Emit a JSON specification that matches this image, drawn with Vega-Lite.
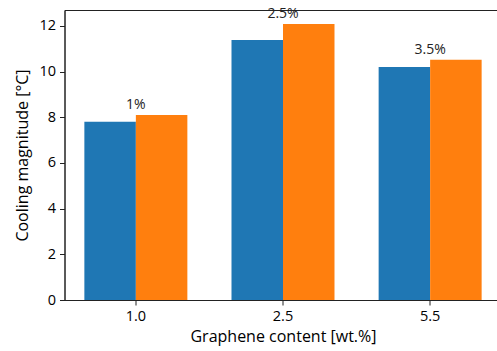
{
  "$schema": "https://vega.github.io/schema/vega-lite/v6.json",
  "width": 437,
  "height": 290,
  "autosize": {"type": "none"},
  "padding": {"left": 64.5, "top": 10, "right": 0, "bottom": 51},
  "config": {
    "font": "Open Sans",
    "view": {"stroke": "#222", "strokeWidth": 1},
    "axis": {
      "grid": false,
      "domainColor": "#222",
      "tickColor": "#222",
      "tickSize": 5,
      "labelFontSize": 14.5,
      "titleFontSize": 16,
      "labelColor": "#000",
      "titleColor": "#000",
      "titleFontWeight": "normal",
      "labelFont": "Open Sans",
      "titleFont": "Open Sans"
    }
  },
  "data": {
    "values": [
      {"content": "1.0", "series": "A", "value": 7.81, "label": null},
      {"content": "1.0", "series": "B", "value": 8.10, "label": "1%"},
      {"content": "2.5", "series": "A", "value": 11.39, "label": null},
      {"content": "2.5", "series": "B", "value": 12.09, "label": "2.5%"},
      {"content": "5.5", "series": "A", "value": 10.20, "label": null},
      {"content": "5.5", "series": "B", "value": 10.52, "label": "3.5%"}
    ]
  },
  "encoding": {
    "x": {
      "field": "content",
      "type": "nominal",
      "scale": {"paddingInner": 0.3, "paddingOuter": 0.135},
      "axis": {"labelAngle": 0, "labelPadding": 4, "title": "Graphene content [wt.%]", "titlePadding": 6}
    }
  },
  "layer": [
    {
      "mark": {"type": "bar"},
      "encoding": {
        "xOffset": {"field": "series", "type": "nominal", "scale": {"paddingInner": 0, "paddingOuter": 0}},
        "y": {
          "field": "value",
          "type": "quantitative",
          "scale": {"domain": [0, 12.7], "nice": false},
          "axis": {"values": [0, 2, 4, 6, 8, 10, 12], "title": "Cooling magnitude [°C]", "labelPadding": 4, "titlePadding": 8}
        },
        "color": {
          "field": "series",
          "type": "nominal",
          "scale": {"domain": ["A", "B"], "range": ["#1f77b4", "#ff7f0e"]},
          "legend": null
        }
      }
    },
    {
      "transform": [{"filter": "datum.label != null"}],
      "mark": {"type": "text", "baseline": "bottom", "dy": -3, "fontSize": 14, "color": "#222"},
      "encoding": {
        "y": {"field": "value", "type": "quantitative"},
        "text": {"field": "label"}
      }
    }
  ]
}
